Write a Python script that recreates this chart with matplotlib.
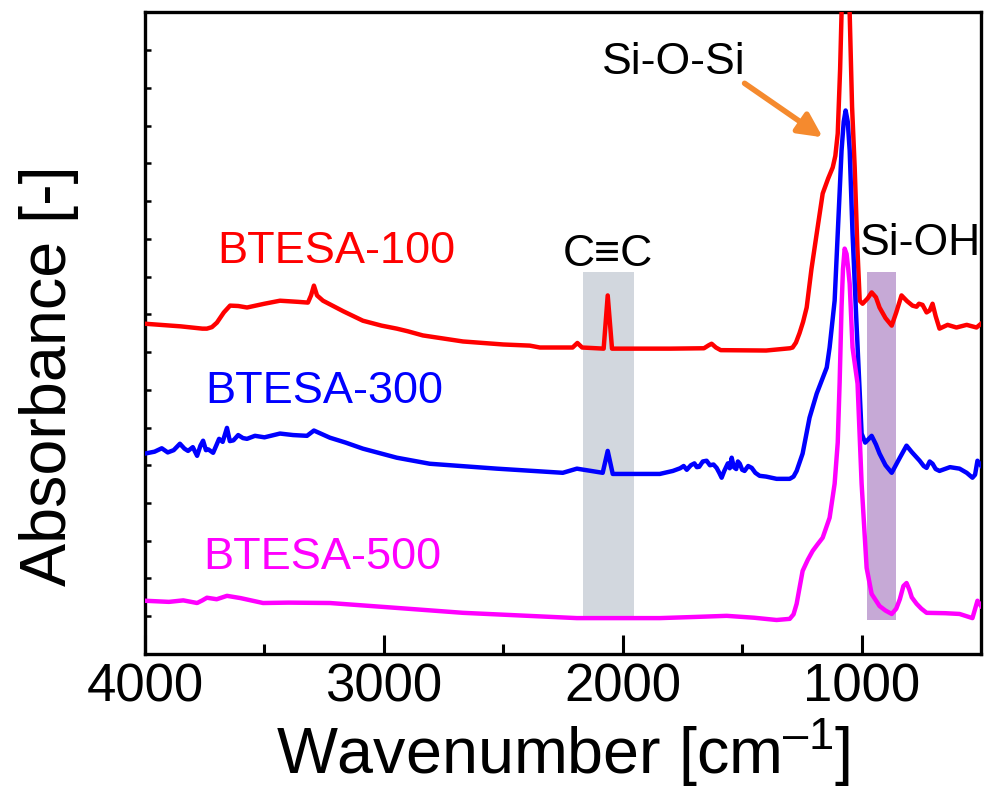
import numpy as np
import matplotlib
matplotlib.use("Agg")
import matplotlib.pyplot as plt

plt.rcParams['font.family'] = ['Liberation Sans', 'DejaVu Sans']
plt.rcParams['mathtext.fontset'] = 'custom'
plt.rcParams['mathtext.rm'] = 'Liberation Sans'
plt.rcParams['mathtext.default'] = 'regular'

# FTIR spectra, stacked (wavenumber in cm-1, absorbance with offsets)
wn_100 = [4000, 3850, 3760, 3741, 3720, 3699, 3670, 3644, 3610, 3573, 3500, 3435,
          3360, 3318, 3305, 3293, 3280, 3255, 3170, 3088, 3010, 2946, 2900, 2837,
          2669, 2500, 2389, 2347, 2210, 2190, 2170, 2080, 2063, 2045, 1800, 1660,
          1640, 1628, 1610, 1590, 1400, 1300, 1289, 1275, 1260, 1245, 1230, 1210,
          1188, 1163, 1140, 1121, 1110, 1100, 1090, 1084, 1075, 1067, 1058, 1050,
          1040, 1029, 1018, 1008, 996, 975, 958, 940, 925, 900, 874, 855, 833, 810,
          787, 770, 760, 745, 728, 715, 703, 690, 674, 640, 603, 560, 519, 500]
ab_100 = [8.75, 8.68, 8.62, 8.62, 8.66, 8.78, 9.05, 9.23, 9.22, 9.18, 9.28, 9.36,
          9.33, 9.31, 9.50, 9.76, 9.50, 9.36, 9.08, 8.83, 8.70, 8.62, 8.55, 8.44,
          8.28, 8.20, 8.17, 8.12, 8.12, 8.24, 8.12, 8.09, 9.50, 8.09, 8.09, 8.10,
          8.18, 8.22, 8.12, 8.05, 8.04, 8.10, 8.12, 8.25, 8.50, 8.80, 9.18, 10.2,
          11.14, 12.20, 12.60, 12.89, 13.20, 13.79, 15.5, 16.98, 17.9, 18.1, 17.9, 16.98,
          14.5, 12.89, 10.8, 9.36, 9.28, 9.42, 9.58, 9.45, 9.18, 8.90, 8.70, 9.05, 9.50, 9.35,
          9.23, 9.20, 9.28, 9.25, 9.05, 9.10, 9.28, 8.95, 8.62, 8.72, 8.65, 8.72, 8.65, 8.75]

wn_300 = [4000, 3960, 3930, 3905, 3880, 3854, 3835, 3820, 3800, 3782, 3768, 3757,
          3745, 3735, 3715, 3700, 3690, 3675, 3657, 3645, 3630, 3610, 3590, 3573,
          3540, 3500, 3435, 3380, 3322, 3293, 3226, 3160, 3088, 2946, 2808, 2527,
          2251, 2192, 2084, 2063, 2042, 1845, 1790, 1760, 1745, 1732, 1715, 1700,
          1690, 1680, 1665, 1649, 1635, 1620, 1607, 1596, 1586, 1575, 1560, 1552,
          1544, 1535, 1525, 1518, 1510, 1500, 1490, 1475, 1460, 1445, 1427, 1400,
          1356, 1301, 1285, 1272, 1247, 1218, 1188, 1146, 1134, 1113, 1100, 1084,
          1075, 1067, 1058, 1050, 1038, 1021, 1000, 985, 958, 940, 925, 900, 874,
          840, 812, 790, 757, 740, 728, 715, 703, 690, 674, 630, 590, 560, 536, 525,
          515, 500]
ab_300 = [5.31, 5.36, 5.45, 5.34, 5.40, 5.57, 5.44, 5.38, 5.48, 5.25, 5.52, 5.65,
          5.40, 5.42, 5.33, 5.55, 5.70, 5.62, 5.99, 5.64, 5.66, 5.80, 5.72, 5.70,
          5.78, 5.74, 5.84, 5.80, 5.78, 5.92, 5.73, 5.60, 5.44, 5.20, 5.04, 4.91,
          4.80, 4.91, 4.80, 5.38, 4.77, 4.77, 4.85, 4.92, 4.98, 4.88, 5.00, 5.05,
          4.95, 4.96, 5.10, 5.12, 5.00, 5.02, 4.93, 4.80, 4.67, 4.85, 5.05, 4.92,
          5.20, 4.95, 4.90, 5.10, 5.04, 4.88, 4.85, 4.98, 4.93, 4.80, 4.72, 4.70,
          4.64, 4.64, 4.70, 4.85, 5.31, 6.26, 6.90, 7.59, 8.12, 9.36, 11.14, 13.34,
          14.1, 14.40, 14.1, 13.34, 11.14, 8.7, 5.84, 5.60, 5.78, 5.55, 5.31, 5.00, 4.80,
          5.20, 5.52, 5.35, 5.12, 4.98, 4.93, 5.10, 5.04, 4.90, 4.85, 4.95, 4.91, 4.80,
          4.67, 4.75, 5.12, 4.99]

wn_500 = [4000, 3900, 3840, 3782, 3760, 3741, 3700, 3657, 3600, 3506, 3400, 3226,
          2946, 2669, 2192, 1845, 1700, 1565, 1450, 1356, 1301, 1285, 1272, 1260,
          1247, 1225, 1205, 1185, 1163, 1134, 1113, 1100, 1092, 1084, 1078, 1071,
          1063, 1056, 1050, 1038, 1017, 1000, 979, 958, 925, 900, 874, 855, 840,
          825, 812, 800, 790, 770, 750, 728, 650, 590, 536, 515, 500]
ab_500 = [1.41, 1.38, 1.42, 1.35, 1.42, 1.49, 1.45, 1.54, 1.48, 1.35, 1.36, 1.35,
          1.22, 1.09, 0.95, 0.95, 0.98, 1.01, 0.96, 0.90, 0.93, 1.05, 1.33, 1.75,
          2.20, 2.50, 2.73, 2.90, 3.08, 3.61, 4.51, 5.60, 7.20, 9.20, 10.2, 10.74,
          10.6, 10.2, 9.81, 8.12, 7.16, 4.51, 2.28, 1.59, 1.27, 1.15, 1.06, 1.20, 1.45,
          1.80, 1.88, 1.70, 1.50, 1.33, 1.20, 1.09, 1.08, 1.06, 0.95, 1.41, 1.27]

labels = ["BTESA-100", "BTESA-300", "BTESA-500"]
colors = ["#ff0000", "#0000ff", "#ff00ff"]

# highlighted bands (cm-1)
band_cc = (2167, 1954)
band_sioh = (979, 858)

fig = plt.figure(figsize=(9.84, 7.98), dpi=100)
ax = fig.add_axes([0.1474, 0.1805, 0.8496, 0.804])

ax.axvspan(band_cc[1], band_cc[0], ymin=0.053, ymax=0.596, color='#d2d7de', lw=0, zorder=1)
ax.axvspan(band_sioh[1], band_sioh[0], ymin=0.053, ymax=0.596, color='#c6a9d6', lw=0, zorder=1)

ax.plot(wn_100, ab_100, color=colors[0], lw=3.2, zorder=3)
ax.plot(wn_300, ab_300, color=colors[1], lw=3.2, zorder=3)
ax.plot(wn_500, ab_500, color=colors[2], lw=3.2, zorder=3)

ax.set_xlim(4000, 500)
ax.set_ylim(0, 17)

ax.text(3699, 10.37, labels[0], color=colors[0], fontsize=32.5)
ax.text(3749, 6.66, labels[1], color=colors[1], fontsize=32.5)
ax.text(3757, 2.25, labels[2], color=colors[2], fontsize=32.5)

ax.text(2063, 10.29, "C\u2261C", fontsize=32, ha='center')
ax.text(1008, 10.56, "Si-OH", fontsize=32)
ax.text(2088, 15.38, "Si-O-Si", fontsize=32)
ax.annotate("", xy=(1163, 13.69), xytext=(1490, 15.12),
            arrowprops=dict(arrowstyle='-|>', color='#f58a2e', lw=4,
                            mutation_scale=36, shrinkA=0, shrinkB=0))

ax.set_xticks([4000, 3000, 2000, 1000])
ax.set_xticks([3500, 2500, 1500], minor=True)
ax.set_yticks(np.arange(1, 17))
ax.set_yticklabels([])
ax.tick_params(axis='x', which='major', direction='in', length=14, width=2.2,
               labelsize=38, pad=6)
ax.tick_params(axis='x', which='minor', direction='in', length=7, width=2.2)
ax.tick_params(axis='y', which='major', direction='in', length=4, width=1.8)
for s in ax.spines.values():
    s.set_linewidth(2.4)

ax.set_xlabel("Wavenumber [cm$^{\u2013 1}$]", fontsize=46.5, labelpad=3)
ax.set_ylabel("Absorbance [-]", fontsize=46.5)
ax.yaxis.set_label_coords(-0.079, 0.434)

fig.savefig("out.png", dpi=100)
